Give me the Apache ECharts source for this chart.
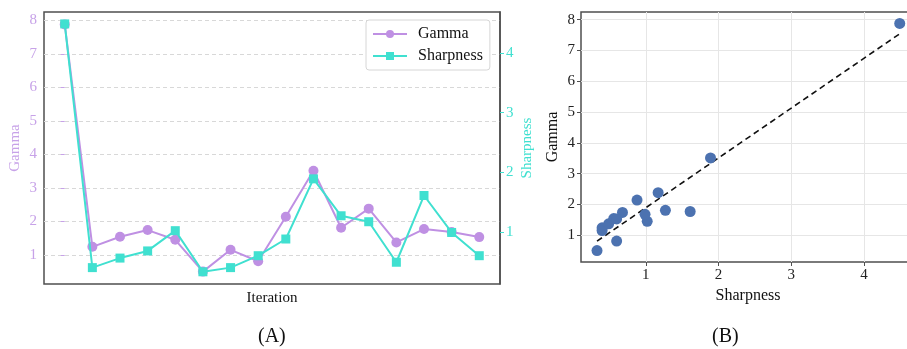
<!DOCTYPE html>
<html>
<head>
    <meta charset="utf-8">
    <title>Gamma vs Sharpness</title>
    <script src="https://cdn.jsdelivr.net/npm/echarts@6/dist/echarts.min.js"></script>
    <style>
        html, body { margin: 0; padding: 0; background: #fff; }
    </style>
</head>
<body>
<div id="main" style="width: 907px;height:349px;"></div>
<script type="text/javascript">
    // values, one per iteration
    const iterations = [0, 1, 2, 3, 4, 5, 6, 7, 8, 9, 10, 11, 12, 13, 14, 15];
    const gamma = [7.88, 1.24, 1.54, 1.74, 1.45, 0.50, 1.15, 0.81, 2.14, 3.51, 1.81, 2.38, 1.37, 1.77, 1.68, 1.53];
    const sharpness = [4.49, 0.40, 0.56, 0.68, 1.02, 0.33, 0.40, 0.60, 0.88, 1.89, 1.27, 1.17, 0.49, 1.61, 0.99, 0.60];

    const gammaTicks = [1, 2, 3, 4, 5, 6, 7, 8];
    const sharpTicks = [1, 2, 3, 4];

    const purple = '#bf90e3';
    const purpleText = '#c7a2e8';
    const teal = '#40e0d0';
    const dotBlue = '#4c72b0';
    const font = 'Liberation Serif';

    // least squares fit for the dashed line in (B)
    function fitLine(xs, ys) {
        let n = xs.length, mx = 0, my = 0;
        for (let i = 0; i < n; i++) { mx += xs[i]; my += ys[i]; }
        mx /= n; my /= n;
        let sxy = 0, sxx = 0;
        for (let i = 0; i < n; i++) {
            sxy += (xs[i] - mx) * (ys[i] - my);
            sxx += (xs[i] - mx) * (xs[i] - mx);
        }
        let slope = sxy / sxx, icpt = my - slope * mx;
        let x0 = Math.min.apply(null, xs), x1 = Math.max.apply(null, xs);
        return [[x0, icpt + slope * x0], [x1, icpt + slope * x1]];
    }

    let myChart = echarts.init(document.getElementById('main'));

    myChart.setOption({
        animation: false,
        grid: [
            { left: 44, width: 456, top: 12, height: 272, outerBoundsMode: 'none',
              show: true, borderColor: '#4f4f4f', borderWidth: 1.5 },
            { left: 581, width: 334, top: 12, height: 250, outerBoundsMode: 'none',
              show: true, borderColor: '#4f4f4f', borderWidth: 1.5 }
        ],
        legend: {
            data: ['Gamma', 'Sharpness'],
            left: 366, top: 20,
            orient: 'vertical',
            itemWidth: 34, itemHeight: 10, itemGap: 6,
            padding: [6, 7, 6, 6],
            backgroundColor: '#fff',
            borderColor: '#d6d6d6', borderWidth: 1, borderRadius: 3,
            textStyle: { fontFamily: font, fontSize: 16, color: '#111', padding: [0, 0, 0, 6] }
        },
        xAxis: [
            {
                gridIndex: 0, type: 'value', min: -0.75, max: 15.75,
                name: 'Iteration', nameLocation: 'middle', nameGap: 7,
                nameTextStyle: { fontFamily: font, fontSize: 15, color: '#111', verticalAlign: 'top' },
                axisLine: { show: false }, axisTick: { show: false },
                axisLabel: { show: false }, splitLine: { show: false }
            },
            {
                gridIndex: 1, type: 'value', min: 0.11, max: 4.70,
                name: 'Sharpness', nameLocation: 'middle', nameGap: 24,
                nameTextStyle: { fontFamily: font, fontSize: 16, color: '#111' },
                axisLine: { show: false },
                axisTick: { show: true, length: 4, customValues: sharpTicks, lineStyle: { color: '#4f4f4f' } },
                axisLabel: { customValues: sharpTicks, margin: 6, fontFamily: font, fontSize: 15, color: '#222' },
                splitLine: { show: true, lineStyle: { color: '#e6e6e6', width: 1 } }
            }
        ],
        yAxis: [
            {
                gridIndex: 0, type: 'value', min: 0.13, max: 8.25, position: 'left',
                name: 'Gamma', nameLocation: 'middle', nameGap: 21, nameMoveOverlap: false,
                nameTextStyle: { fontFamily: font, fontSize: 15, color: purpleText },
                axisLine: { show: false },
                axisTick: { show: true, length: 4, customValues: gammaTicks, lineStyle: { color: purpleText } },
                axisLabel: { customValues: gammaTicks, margin: 7, fontFamily: font, fontSize: 15, color: purpleText },
                splitLine: { show: true, lineStyle: { color: '#d8d8d8', type: [4, 3], width: 1 } }
            },
            {
                gridIndex: 0, type: 'value', min: 0.125, max: 4.69, position: 'right',
                name: 'Sharpness', nameLocation: 'middle', nameGap: 20, nameRotate: 90, nameMoveOverlap: false,
                nameTextStyle: { fontFamily: font, fontSize: 15, color: teal },
                axisLine: { show: true, lineStyle: { color: '#4f4f4f', width: 1.5 } },
                axisTick: { show: true, length: 4, customValues: sharpTicks, lineStyle: { color: teal } },
                axisLabel: { customValues: sharpTicks, margin: 6, fontFamily: font, fontSize: 15, color: teal },
                splitLine: { show: false }
            },
            {
                gridIndex: 1, type: 'value', min: 0.13, max: 8.25,
                name: 'Gamma', nameLocation: 'middle', nameGap: 20, nameMoveOverlap: false,
                nameTextStyle: { fontFamily: font, fontSize: 16, color: '#111' },
                axisLine: { show: false },
                axisTick: { show: true, length: 4, customValues: gammaTicks, lineStyle: { color: '#4f4f4f' } },
                axisLabel: { customValues: gammaTicks, margin: 6, fontFamily: font, fontSize: 15, color: '#222' },
                splitLine: { show: true, lineStyle: { color: '#e6e6e6', width: 1 } }
            }
        ],
        graphic: [
            { type: 'text', left: 272 - 14, top: 327, style: { text: '(A)', font: '20px "Liberation Serif"', fill: '#111' } },
            { type: 'text', left: 726 - 14, top: 327, style: { text: '(B)', font: '20px "Liberation Serif"', fill: '#111' } }
        ],
        series: [
            {
                name: 'Gamma', type: 'line', xAxisIndex: 0, yAxisIndex: 0,
                data: iterations.map((it, i) => [it, gamma[i]]),
                symbol: 'circle', symbolSize: 10,
                lineStyle: { color: purple, width: 2 },
                itemStyle: { color: purple },
                z: 2
            },
            {
                name: 'Sharpness', type: 'line', xAxisIndex: 0, yAxisIndex: 1,
                data: iterations.map((it, i) => [it, sharpness[i]]),
                symbol: 'rect', symbolSize: 9,
                lineStyle: { color: teal, width: 2 },
                itemStyle: { color: teal },
                z: 3
            },
            {
                name: 'fit', type: 'line', xAxisIndex: 1, yAxisIndex: 2,
                data: fitLine(sharpness, gamma),
                symbol: 'none',
                lineStyle: { color: '#111', width: 1.6, type: [6, 4] },
                z: 2
            },
            {
                name: 'points', type: 'scatter', xAxisIndex: 1, yAxisIndex: 2,
                data: sharpness.map((s, i) => [s, gamma[i]]),
                symbolSize: 11,
                itemStyle: { color: dotBlue, opacity: 1 },
                z: 3
            }
        ]
    });
</script>
</body>
</html>
